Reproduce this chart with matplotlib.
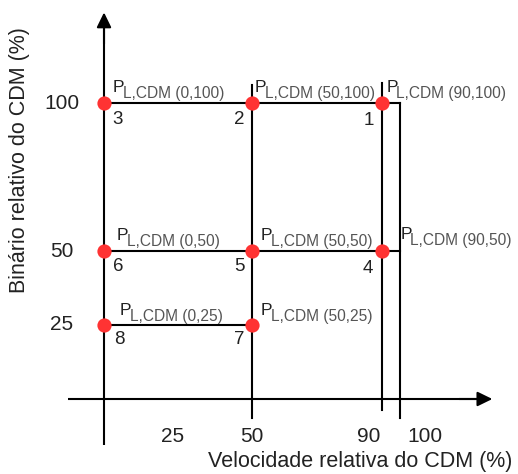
import numpy as np
import matplotlib
matplotlib.use("Agg")
import matplotlib.pyplot as plt

# ---- data ----
point_ids = [1, 2, 3, 4, 5, 6, 7, 8]
vel = [90, 50, 0, 90, 50, 0, 50, 0]          # Velocidade relativa do CDM (%)
binario = [100, 100, 100, 50, 50, 50, 25, 25]  # Binário relativo do CDM (%)
x_ticks = [25, 50, 90, 100]
y_ticks = [100, 50, 25]
x_label = "Velocidade relativa do CDM (%)"
y_label = "Binário relativo do CDM (%)"

# ---- layout (pixel offsets for labels) ----
p_offsets = [(4, 11), (3, 11), (9, 11), (18, 12), (9, 11), (13, 11), (9, 10), (16, 10)]
num_offsets = [(-13, -17), (-13, -16), (14, -16), (-14, -17), (-13, -15), (14, -15), (-13, -15), (15, -15)]
xtick_offsets = [(-5, -38), (0, -38), (-14, -38), (25, -38)]

plt.rcParams['font.family'] = ['Liberation Sans', 'DejaVu Sans']
LINE = '#000000'
TXT = '#222222'
SUB = '#555555'
RED = '#ff3333'
LW = 1.5

fig = plt.figure(figsize=(5.18, 4.74), dpi=100)
ax = fig.add_axes([0, 0, 1, 1])

# schematic (non-linear) horizontal scale: 90 drawn closer to 100
def fwd(x):
    return np.interp(x, [-300, 0, 50, 90, 100, 400], [-300, 0, 50, 94, 100, 400])

def inv(y):
    return np.interp(y, [-300, 0, 50, 94, 100, 400], [-300, 0, 50, 90, 100, 400])

ax.set_xscale('function', functions=(fwd, inv))
ax.set_xlim(-35.14, 139.86)
ax.set_ylim(-25.34, 134.8)
ax.axis('off')

# axes with arrows
ax.plot([0, 0], [-15.5, 128], color=LINE, lw=LW, solid_capstyle='butt')
ax.annotate('', xy=(0, 130.6), xytext=(0, 120), arrowprops=dict(
    arrowstyle='-|>,head_length=0.45,head_width=0.22', color=LINE, lw=LW,
    mutation_scale=20, shrinkA=0, shrinkB=0))
ax.plot([-12.2, 128], [0, 0], color=LINE, lw=LW, solid_capstyle='butt')
ax.annotate('', xy=(131.2, 0), xytext=(120, 0), arrowprops=dict(
    arrowstyle='-|>,head_length=0.45,head_width=0.22', color=LINE, lw=LW,
    mutation_scale=20, shrinkA=0, shrinkB=0))

# grid/structure lines
vmax = max(vel)
ax.plot([50, 50], [-6.4, 106.1], color=LINE, lw=LW)
ax.plot([vmax, vmax], [-3.7, 106.8], color=LINE, lw=LW)
ax.plot([100, 100], [-6.4, 100], color=LINE, lw=LW)
ax.plot([0, 100], [100, 100], color=LINE, lw=LW)
ax.plot([0, 100], [50, 50], color=LINE, lw=LW)
ax.plot([0, 50], [25, 25], color=LINE, lw=LW)

# points
ax.scatter(vel, binario, s=105, color=RED, zorder=5, linewidths=0)

for pid, xv, yv, po, no in zip(point_ids, vel, binario, p_offsets, num_offsets):
    ax.annotate('P', (xv, yv), xytext=po, textcoords='offset pixels',
                ha='left', va='baseline', fontsize=12.5, color=TXT)
    ax.annotate(f'L,CDM ({xv},{yv})', (xv, yv), xytext=(po[0] + 10, po[1] - 6),
                textcoords='offset pixels', ha='left', va='baseline',
                fontsize=11.2, color=SUB)
    ax.annotate(str(pid), (xv, yv), xytext=no, textcoords='offset pixels',
                ha='center', va='center', fontsize=13.5, color=TXT)

# tick labels
for yt in y_ticks:
    ax.annotate(str(yt), (0, yt), xytext=(-42, 0), textcoords='offset pixels',
                ha='center', va='center', fontsize=15, color=TXT)
for xt, off in zip(x_ticks, xtick_offsets):
    ax.annotate(str(xt), (xt, 0), xytext=off, textcoords='offset pixels',
                ha='center', va='center', fontsize=15, color=TXT)

fig.text(360 / 518, 1 - 462 / 474, x_label, ha='center', va='center',
         fontsize=15.5, color=TXT)
fig.text(20 / 518, 1 - 160 / 474, y_label, ha='center', va='center',
         rotation=90, fontsize=15.5, color=TXT)

fig.savefig('out.png', dpi=100)
